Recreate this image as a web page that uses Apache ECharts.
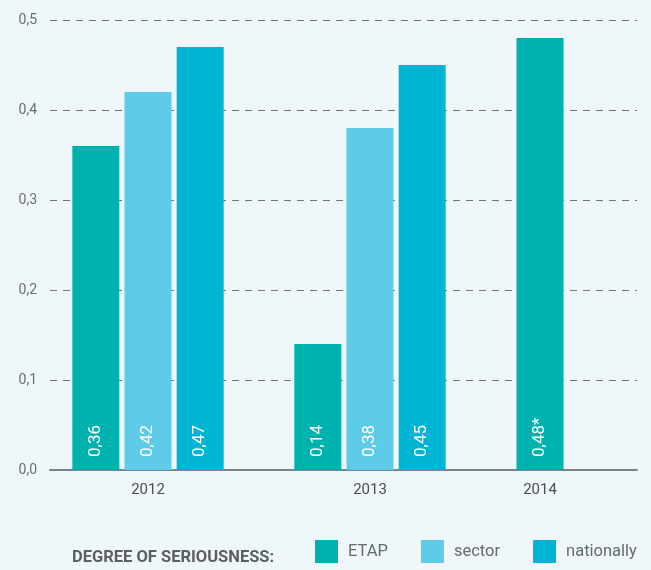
<!DOCTYPE html>
<html>
<head>
<meta charset="utf-8">
<script src="https://cdn.jsdelivr.net/npm/echarts@6/dist/echarts.min.js"></script>
<style>
  html, body { margin: 0; padding: 0; background: #eff7fa; }
  #chart { width: 651px; height: 570px; }
</style>
</head>
<body>
<div id="chart"></div>
<script>
// Accident seriousness rate by year
const years = ['2012', '2013', '2014'];
const pairYears = ['2012', '2013'];
const lastYear = ['2014'];
const etap = [0.36, 0.14];
const sector = [0.42, 0.38];
const nationally = [0.47, 0.45];
const etapLast = [0.48];
const lastNote = '*';
const yTicks = { min: 0, max: 0.5, interval: 0.1 };

const FONT = 'Roboto, "DejaVu Sans", sans-serif';
const C_ETAP = '#00b2ae';
const C_SECTOR = '#5ecbe8';
const C_NAT = '#00b4d3';

function barLabel(suffix) {
  return {
    show: true,
    position: 'insideBottom',
    rotate: 90,
    align: 'left',
    verticalAlign: 'middle',
    distance: 13,
    color: '#ffffff',
    fontFamily: FONT,
    fontSize: 17,
    formatter: p => String(p.value).replace('.', ',') + (suffix || '')
  };
}

const hiddenY = (idx) => ({
  type: 'value', gridIndex: idx, min: yTicks.min, max: yTicks.max, interval: yTicks.interval,
  show: false, splitLine: { show: false }
});

const yearLabel = { margin: 13, fontFamily: FONT, fontSize: 15, color: '#4a4f53' };

const option = {
  backgroundColor: '#eff7fa',
  animation: false,
  title: {
    text: 'DEGREE OF SERIOUSNESS:',
    left: 72, top: 549,
    padding: 0,
    textStyle: { fontFamily: FONT, fontSize: 16.5, fontWeight: 'bold', color: '#5a5f63' }
  },
  legend: {
    data: ['ETAP', 'sector', 'nationally'],
    left: 315, top: 540,
    padding: 0,
    itemWidth: 23, itemHeight: 23, itemGap: 33,
    icon: 'rect',
    textStyle: { fontFamily: FONT, fontSize: 16.5, color: '#666b70', padding: [15, 0, 0, 5] }
  },
  grid: [
    { left: 50, right: 14, top: 20, bottom: 100 },
    { left: 37, width: 444, top: 20, bottom: 100 },
    { left: 481, width: 118, top: 20, bottom: 100 }
  ],
  xAxis: [
    {
      type: 'category', gridIndex: 0, data: years,
      axisLine: { show: true, lineStyle: { color: '#7d8386', width: 2 } },
      axisTick: { show: false }, axisLabel: { show: false }, splitLine: { show: false }
    },
    {
      type: 'category', gridIndex: 1, data: pairYears,
      axisLine: { show: false }, axisTick: { show: false }, axisLabel: yearLabel
    },
    {
      type: 'category', gridIndex: 2, data: lastYear,
      axisLine: { show: false }, axisTick: { show: false }, axisLabel: yearLabel
    }
  ],
  yAxis: [
    {
      type: 'value', gridIndex: 0, min: yTicks.min, max: yTicks.max, interval: yTicks.interval,
      axisLine: { show: false }, axisTick: { show: false },
      axisLabel: {
        margin: 13, fontFamily: FONT, fontSize: 14, color: '#6a6f73',
        padding: [0, 0, 10, 0],
        formatter: v => v.toFixed(1).replace('.', ',')
      },
      splitLine: { show: true, lineStyle: { color: '#6f7478', type: [7, 6], width: 1 } }
    },
    hiddenY(1),
    hiddenY(2)
  ],
  series: [
    { name: 'ETAP', type: 'bar', xAxisIndex: 1, yAxisIndex: 1, data: etap,
      barWidth: 47, barGap: '11%', itemStyle: { color: C_ETAP }, label: barLabel() },
    { name: 'sector', type: 'bar', xAxisIndex: 1, yAxisIndex: 1, data: sector,
      barWidth: 47, barGap: '11%', itemStyle: { color: C_SECTOR }, label: barLabel() },
    { name: 'nationally', type: 'bar', xAxisIndex: 1, yAxisIndex: 1, data: nationally,
      barWidth: 47, barGap: '11%', itemStyle: { color: C_NAT }, label: barLabel() },
    { name: 'ETAP', type: 'bar', xAxisIndex: 2, yAxisIndex: 2, data: etapLast,
      barWidth: 47, itemStyle: { color: C_ETAP }, label: barLabel(lastNote) }
  ]
};

echarts.init(document.getElementById('chart'), null, { renderer: 'canvas' }).setOption(option);
</script>
</body>
</html>
